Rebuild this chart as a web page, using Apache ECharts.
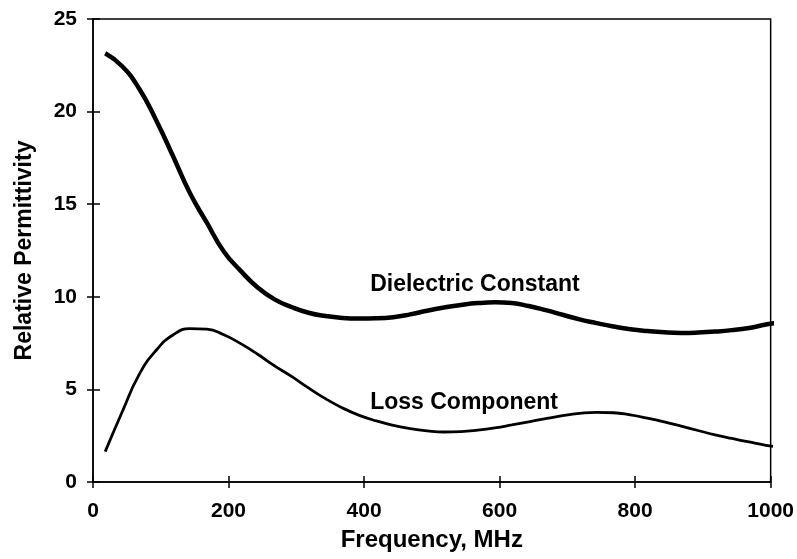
<!DOCTYPE html>
<html>
<head>
<meta charset="utf-8">
<script src="https://cdn.jsdelivr.net/npm/echarts@6/dist/echarts.min.js"></script>
<style>
  html, body { margin: 0; padding: 0; background: #fff; }
  #main { width: 797px; height: 559px; }
</style>
</head>
<body>
<div id="main"></div>
<script>
// frequency (MHz)
const freq = [18, 43, 68, 93, 118, 143, 168, 193, 218, 243, 268, 293, 318, 343, 368, 393, 418, 443, 468, 493,
  518, 543, 568, 593, 618, 643, 668, 693, 718, 743, 768, 793, 818, 843, 868, 893, 918, 943, 968, 993, 1008];
const dielectric = [23.15, 22.45, 21.25, 19.55, 17.6, 15.6, 14.0, 12.45, 11.4, 10.5, 9.86, 9.45, 9.14, 8.96, 8.86, 8.83, 8.84, 8.9, 9.05, 9.25,
  9.42, 9.56, 9.66, 9.7, 9.66, 9.5, 9.28, 9.03, 8.78, 8.58, 8.4, 8.25, 8.15, 8.08, 8.05, 8.07, 8.12, 8.2, 8.32, 8.5, 8.58];
const loss = [1.64, 3.78, 5.8, 7.1, 7.94, 8.28, 8.25, 7.95, 7.47, 6.9, 6.27, 5.7, 5.08, 4.5, 4.0, 3.6, 3.3, 3.06, 2.88, 2.76,
  2.7, 2.72, 2.8, 2.92, 3.08, 3.25, 3.42, 3.58, 3.7, 3.76, 3.74, 3.62, 3.45, 3.25, 3.02, 2.78, 2.55, 2.35, 2.16, 1.98, 1.9];

const seriesNames = ['Dielectric Constant', 'Loss Component'];
const xTicks = [0, 200, 400, 600, 800, 1000];
const yTicks = [0, 5, 10, 15, 20, 25];

const font = '"Liberation Sans", Arial, sans-serif';
const chart = echarts.init(document.getElementById('main'));

function pairs(xs, ys) {
  return xs.map(function (x, i) { return [x, ys[i]]; });
}

const xBase = {
  type: 'value',
  min: xTicks[0],
  max: xTicks[xTicks.length - 1],
  interval: 200,
  position: 'bottom',
  splitLine: { show: false }
};
const yBase = {
  type: 'value',
  min: yTicks[0],
  max: yTicks[yTicks.length - 1],
  interval: 5,
  position: 'left',
  splitLine: { show: false }
};
const tickStyle = { color: '#000', width: 1.5 };

chart.setOption({
  animation: false,
  backgroundColor: '#fff',
  grid: {
    left: 93, top: 19, right: 25, bottom: 77,
    show: true,
    borderColor: '#000',
    borderWidth: 1.5
  },
  xAxis: [
    Object.assign({}, xBase, {
      name: 'Frequency, MHz',
      nameLocation: 'middle',
      nameGap: 46,
      nameTextStyle: { fontFamily: font, fontWeight: 'bold', fontSize: 24, color: '#000' },
      axisLine: { onZero: false, lineStyle: { color: '#000', width: 1.5 } },
      axisTick: { inside: false, length: 6, lineStyle: tickStyle },
      axisLabel: {
        margin: 19, fontFamily: font, fontWeight: 'bold', fontSize: 21, color: '#000',
        formatter: function (v) { return String(v); }
      }
    }),
    Object.assign({}, xBase, {
      axisLine: { show: false, onZero: false },
      axisTick: { inside: true, length: 6, lineStyle: tickStyle },
      axisLabel: { show: false }
    })
  ],
  yAxis: [
    Object.assign({}, yBase, {
      name: 'Relative Permittivity',
      nameLocation: 'middle',
      nameGap: 57,
      nameTextStyle: { fontFamily: font, fontWeight: 'bold', fontSize: 23, color: '#000' },
      axisLine: { onZero: false, lineStyle: { color: '#000', width: 1.5 } },
      axisTick: { inside: false, length: 6, lineStyle: tickStyle },
      axisLabel: { margin: 16, fontFamily: font, fontWeight: 'bold', fontSize: 21, color: '#000' }
    }),
    Object.assign({}, yBase, {
      axisLine: { show: false, onZero: false },
      axisTick: { inside: true, length: 7, lineStyle: tickStyle },
      axisLabel: { show: false }
    })
  ],
  series: [
    {
      name: seriesNames[0],
      type: 'line',
      data: pairs(freq, dielectric),
      smooth: 0.5,
      showSymbol: false,
      clip: false,
      lineStyle: { color: '#000', width: 4.5 }
    },
    {
      name: seriesNames[1],
      type: 'line',
      data: pairs(freq, loss),
      smooth: 0.5,
      showSymbol: false,
      clip: false,
      lineStyle: { color: '#000', width: 2.8 }
    }
  ]
});

// curve captions, anchored in data coordinates (left edge, vertical middle)
const captionAt = [[409, 10.65], [409, 4.3]];
chart.setOption({
  graphic: seriesNames.map(function (name, i) {
    const p = chart.convertToPixel({ gridIndex: 0 }, captionAt[i]);
    return {
      type: 'text',
      x: p[0],
      y: p[1],
      style: {
        text: name,
        fontFamily: font,
        fontWeight: 'bold',
        fontSize: 23,
        fill: '#000',
        verticalAlign: 'middle'
      }
    };
  })
});
</script>
</body>
</html>
